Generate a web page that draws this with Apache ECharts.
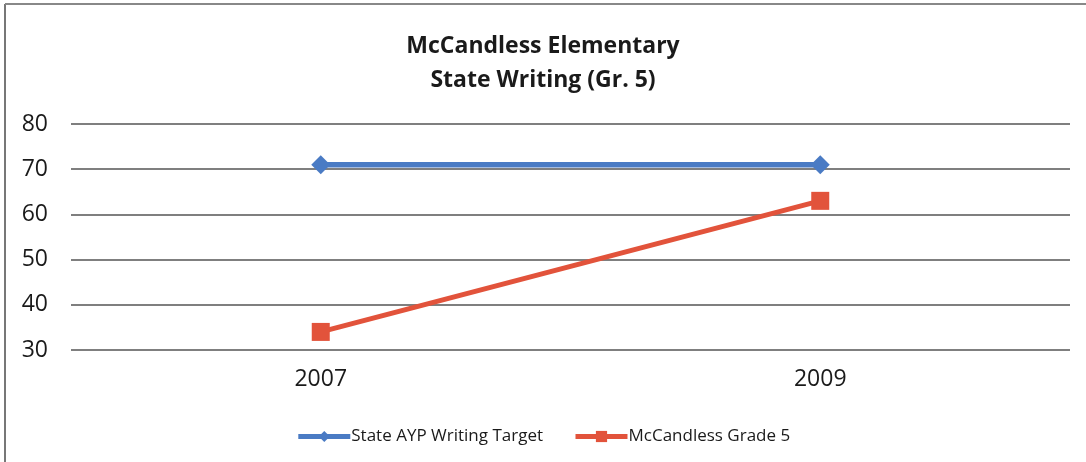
<!DOCTYPE html>
<html>
<head>
<meta charset="utf-8">
<script src="https://cdn.jsdelivr.net/npm/echarts@6/dist/echarts.min.js"></script>
<style>
html,body{margin:0;padding:0;background:#fff;}
#chart{width:1086px;height:462px;}
</style>
</head>
<body>
<div id="chart"></div>
<script>
const categories = ['2007', '2009'];
const stateTarget = [71, 71];
const mcCandlessGrade5 = [34, 63];
const seriesNames = ['State AYP Writing Target', 'McCandless Grade 5'];

const chart = echarts.init(document.getElementById('chart'));
const font = '"Open Sans", "Liberation Sans", sans-serif';
chart.setOption({
  animation: false,
  backgroundColor: '#fff',
  title: {
    text: 'McCandless Elementary\nState Writing (Gr. 5)',
    left: 'center',
    top: 24,
    textStyle: { fontFamily: font, fontWeight: 'bold', fontSize: 23, lineHeight: 34, color: '#1a1a1a' }
  },
  graphic: [
    { type: 'line', shape: { x1: 5, y1: 4, x2: 5, y2: 462 }, style: { stroke: '#777', lineWidth: 2 } },
    { type: 'line', shape: { x1: 5, y1: 4, x2: 1086, y2: 4 }, style: { stroke: '#888', lineWidth: 2 } }
  ],
  legend: {
    bottom: 12,
    left: 'center',
    itemWidth: 52,
    itemHeight: 14,
    itemGap: 30,
    lineStyle: { width: 5 },
    textStyle: { fontFamily: font, fontSize: 17, color: '#1a1a1a', padding: [0, 0, 0, -4] },
    data: seriesNames
  },
  grid: { left: 71, right: 16, top: 124, bottom: 112 },
  xAxis: {
    type: 'category',
    data: categories,
    boundaryGap: true,
    axisLine: { show: false },
    axisTick: { show: false },
    axisLabel: { fontFamily: font, fontSize: 23, color: '#1a1a1a', margin: 18 }
  },
  yAxis: {
    type: 'value',
    min: 30,
    max: 80,
    interval: 10,
    axisLine: { show: false },
    axisTick: { show: false },
    axisLabel: { fontFamily: font, fontSize: 23, color: '#1a1a1a', margin: 23 },
    splitLine: { lineStyle: { color: '#555', width: 1.5 } }
  },
  series: [
    {
      name: seriesNames[0],
      type: 'line',
      data: stateTarget,
      symbol: 'diamond',
      symbolSize: 19,
      lineStyle: { color: '#4a7bc4', width: 5.5 },
      itemStyle: { color: '#4a7bc4' }
    },
    {
      name: seriesNames[1],
      type: 'line',
      data: mcCandlessGrade5,
      symbol: 'rect',
      symbolSize: 18,
      lineStyle: { color: '#e2533b', width: 5 },
      itemStyle: { color: '#e2533b' }
    }
  ]
});
</script>
</body>
</html>
